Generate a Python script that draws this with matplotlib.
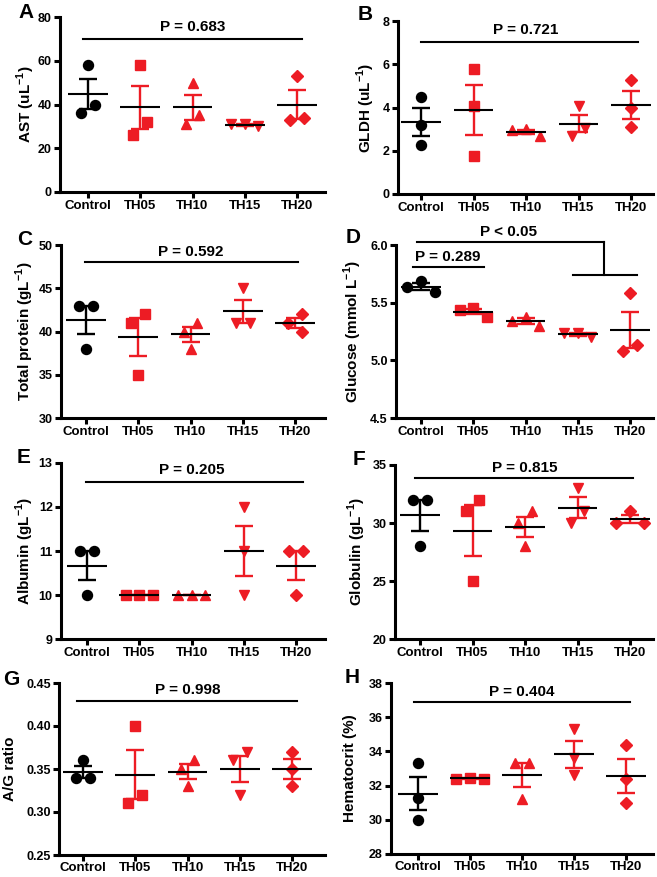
import matplotlib
matplotlib.use('Agg')
import matplotlib.pyplot as plt
import numpy as np

plt.rcParams['font.family'] = ['Liberation Sans', 'DejaVu Sans']
plt.rcParams['font.weight'] = 'bold'
plt.rcParams['mathtext.fontset'] = 'custom'
plt.rcParams['mathtext.rm'] = 'Liberation Sans:bold'
plt.rcParams['mathtext.bf'] = 'Liberation Sans:bold'

groups = ['Control', 'TH05', 'TH10', 'TH15', 'TH20']

# values, 3 animals per group
ast = [[58, 36, 40], [58, 26, 32], [50, 31, 35], [31, 30, 31], [53, 33, 34]]
gldh = [[4.5, 3.2, 2.25], [5.8, 4.05, 1.78], [3.0, 2.7, 2.95], [4.05, 2.68, 3.05], [5.27, 4.0, 3.08]]
tprot = [[43, 43, 38], [42, 41, 35], [41, 40, 38], [45, 41, 41], [42, 41, 40]]
gluc = [[5.69, 5.59, 5.64], [5.45, 5.38, 5.44], [5.38, 5.30, 5.34], [5.24, 5.20, 5.24], [5.58, 5.08, 5.13]]
alb = [[11, 11, 10], [10, 10, 10], [10, 10, 10], [12, 11, 10], [11, 11, 10]]
glob = [[32, 32, 28], [32, 31, 25], [31, 30, 28], [33, 30, 31], [31, 30, 30]]
agr = [[0.36, 0.34, 0.34], [0.40, 0.31, 0.32], [0.36, 0.35, 0.33], [0.37, 0.36, 0.32], [0.37, 0.35, 0.33]]
hct = [[33.3, 31.3, 30.0], [32.4, 32.4, 32.45], [33.3, 33.3, 31.2], [35.3, 33.6, 32.6], [34.35, 32.4, 30.97]]

ylabels = [r'AST (uL$^{-1}$)', r'GLDH (uL$^{-1}$)', r'Total protein (gL$^{-1}$)',
           r'Glucose (mmol L$^{-1}$)', r'Albumin (gL$^{-1}$)', r'Globulin (gL$^{-1}$)',
           'A/G ratio', 'Hematocrit (%)']
yticks = [[0, 20, 40, 60, 80], [0, 2, 4, 6, 8], [30, 35, 40, 45, 50], [4.5, 5.0, 5.5, 6.0],
          [9, 10, 11, 12, 13], [20, 25, 30, 35], [0.25, 0.30, 0.35, 0.40, 0.45], [28, 30, 32, 34, 36, 38]]
tickfmt = ['%d', '%d', '%d', '%.1f', '%d', '%d', '%.2f', '%d']
pvals = ['P = 0.683', 'P = 0.721', 'P = 0.592', None, 'P = 0.205', 'P = 0.815', 'P = 0.998', 'P = 0.404']
letters = list('ABCDEFGH')
data = [ast, gldh, tprot, gluc, alb, glob, agr, hct]

W, H = 657, 877
# layout in pixels: left spine, right end, top, bottom, control tick, TH20 tick
boxes = [(60, 325, 17, 192, 88, 297), (398, 653, 21, 194, 421, 631),
         (61, 325, 245, 418, 86, 295), (396, 653, 245, 418, 421, 630),
         (61, 325, 463, 639, 87, 296), (395, 653, 465, 639, 420, 630),
         (59, 325, 683, 855, 83, 292), (391, 653, 683, 854, 418, 626)]
letter_pos = [(18, 3), (358, 5), (17, 230), (346, 228), (17, 448), (353, 450), (3, 670), (345, 668)]
ylab_x = [26, 366, 25, 353, 25, 357, 10, 350]
# bracket: x from, x to, line y, text y
brackets = [(-0.1, 4.1, 70, 75.5), (0.0, 4.13, 7.03, 7.6), (-0.02, 4.06, 48.0, 49.2), None,
            (-0.02, 4.13, 12.57, 12.84), (-0.1, 4.06, 33.88, 34.74),
            (-0.12, 4.1, 0.4295, 0.442), (-0.08, 4.07, 36.9, 37.5)]

red = '#ED1C24'
colors = ['black', red, red, red, red]
markers = ['o', 's', '^', 'v', 'D']
msizes = [7.2, 6.6, 7.4, 7.4, 6]

fig = plt.figure(figsize=(W / 100, H / 100), dpi=100)


def swarm(vals, px_per_unit, px_per_x, diam=13.5, step=0.26):
    order = np.argsort(vals)[::-1]
    placed = []
    offs = np.zeros(len(vals))
    for i in order:
        y = vals[i] * px_per_unit
        for c in [0, -step, step, -2 * step, 2 * step]:
            ok = all(np.hypot((c - offs[j]) * px_per_x, y - vals[j] * px_per_unit) >= diam for j in placed)
            if ok:
                offs[i] = c
                break
        placed.append(i)
    # centre each chain of close points
    srt = sorted(range(len(vals)), key=lambda k: vals[k])
    clusters = [[srt[0]]]
    for k in srt[1:]:
        if (vals[k] - vals[clusters[-1][-1]]) * px_per_unit < diam:
            clusters[-1].append(k)
        else:
            clusters.append([k])
    for cl in clusters:
        mid = (max(offs[cl]) + min(offs[cl])) / 2
        offs[cl] -= mid
    return offs


for p in range(8):
    l, r, t, b, c0, c4 = boxes[p]
    ax = fig.add_axes([l / W, 1 - b / H, (r - l) / W, (b - t) / H])
    u = (c4 - c0) / 4
    ax.set_xlim(-(c0 - l) / u, 4 + (r - c4) / u)
    yt = yticks[p]
    ax.set_ylim(yt[0], yt[-1])
    ppu = (b - t) / (yt[-1] - yt[0])
    for g in range(5):
        vals = np.array(data[p][g], dtype=float)
        offs = swarm(vals, ppu, u)
        ax.plot(g + offs, vals, linestyle='none', marker=markers[g], ms=msizes[g],
                color=colors[g], mec=colors[g], zorder=2, clip_on=False)
        m = vals.mean()
        se = vals.std(ddof=1) / np.sqrt(len(vals))
        ax.errorbar(g, m, yerr=se, fmt='none', ecolor=colors[g], elinewidth=1.7,
                    capsize=6.5, capthick=1.7, zorder=3)
        ax.plot([g - 0.38, g + 0.38], [m, m], color='black', lw=1.5, zorder=4,
                solid_capstyle='butt')
    for side in ['top', 'right']:
        ax.spines[side].set_visible(False)
    for side in ['left', 'bottom']:
        ax.spines[side].set_linewidth(2.2)
    ax.set_xticks(range(5))
    ax.set_xticklabels(groups, fontsize=9.5, fontweight='bold')
    ax.set_yticks(yt)
    ax.set_yticklabels([tickfmt[p] % v for v in yt], fontsize=9, fontweight='bold')
    ax.tick_params(axis='both', direction='out', length=4, width=2.2, pad=2)
    ax.tick_params(axis='x', pad=2 if p < 6 else 1)

    br = brackets[p]
    if br is not None:
        ax.plot([br[0], br[1]], [br[2], br[2]], color='black', lw=1.5, clip_on=False)
        ax.text(2.0, br[3], pvals[p], ha='center', va='center', fontsize=11,
                fontweight='bold', clip_on=False)
    else:
        # glucose panel brackets
        ax.plot([-0.08, 3.5], [6.029, 6.029], color='black', lw=1.5, clip_on=False)
        ax.plot([3.5, 3.5], [6.029, 5.74], color='black', lw=1.5, clip_on=False)
        ax.plot([2.91, 4.13], [5.74, 5.74], color='black', lw=1.5, clip_on=False)
        ax.text(1.68, 6.113, 'P < 0.05', ha='center', va='center', fontsize=11,
                fontweight='bold', clip_on=False)
        ax.plot([-0.15, 1.2], [5.812, 5.812], color='black', lw=1.5, clip_on=False)
        ax.text(0.52, 5.896, 'P = 0.289', ha='center', va='center', fontsize=11,
                fontweight='bold')

    fig.text(ylab_x[p] / W, 1 - (t + b) / 2 / H, ylabels[p], rotation=90,
             ha='center', va='center', fontsize=11, fontweight='bold')
    lx, ly = letter_pos[p]
    fig.text(lx / W, 1 - ly / H, letters[p], ha='left', va='top', fontsize=15,
             fontweight='bold')

fig.savefig('out.png', dpi=100)
